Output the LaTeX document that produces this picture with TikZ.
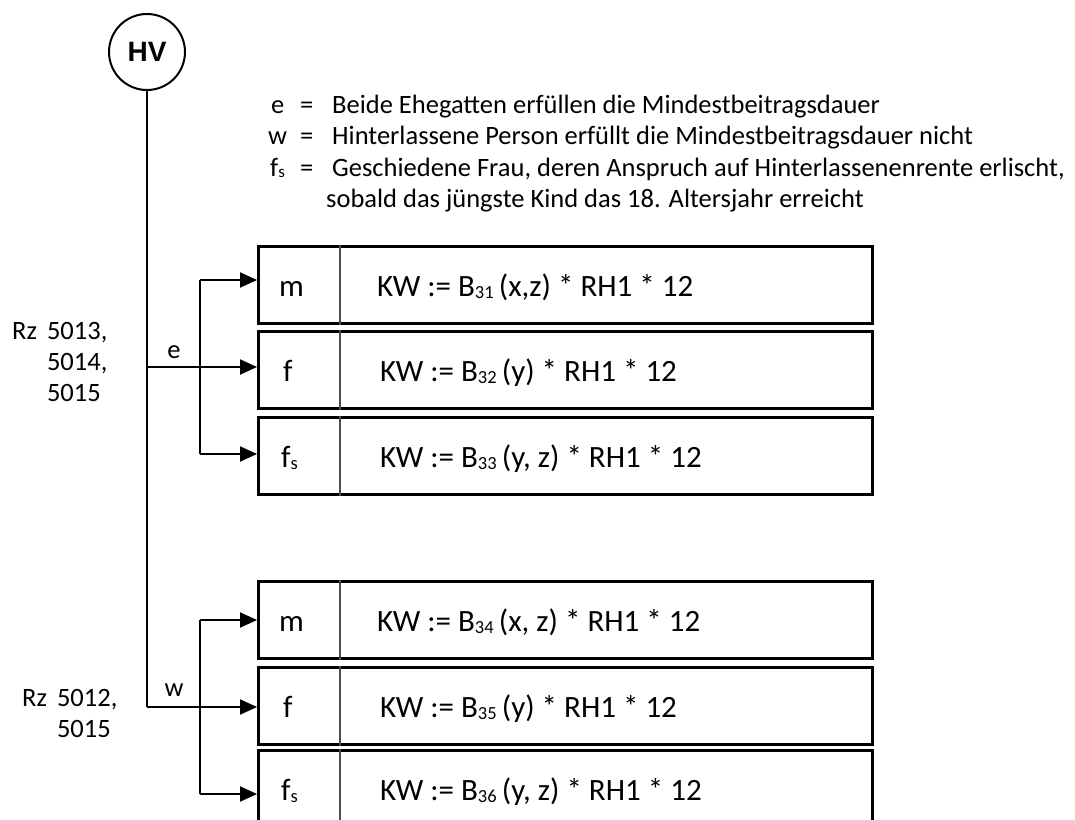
\documentclass[tikz,border=0pt]{standalone}
\usepackage{fontspec}
\setmainfont{Carlito}
\newfontfamily\hvfont{Liberation Sans}
\usetikzlibrary{arrows.meta}
\newcommand{\idx}[1]{\raisebox{-2pt}{\fontsize{18.5}{18.5}\selectfont #1}}
\newcommand{\lidx}[1]{\raisebox{-1.5pt}{\fontsize{17}{17}\selectfont #1}}
\begin{document}
\begin{tikzpicture}[x=1pt,y=-1pt,
        rowbox/.style={draw,line width=2.6pt,minimum width=614pt,minimum height=77pt,inner sep=0pt,anchor=north west},
        link/.style={line width=2pt},
        arr/.style={link,-{Triangle[length=17pt,width=15pt]}},
        boxtext/.style={font=\fontsize{31}{36}\selectfont,inner sep=0pt,anchor=base west},
        legend/.style={font=\fontsize{26.5}{32}\selectfont,inner sep=0pt,anchor=base west},
        rz/.style={font=\fontsize{26.5}{31}\selectfont,inner sep=0pt,align=left,anchor=base west}]
    \useasboundingbox (0,0) rectangle (1075,819);

    \node[circle,draw,line width=2pt,minimum size=76pt,inner sep=0pt,font=\hvfont\bfseries\fontsize{28}{28}\selectfont] (hv) at (147,52) {HV};

    % legende
    \node[legend] (le) at (271,113) {e};
    \node[legend] (lw) at (268,144.5) {w};
    \node[legend] (lf) at (270,176) {f\lidx{s}};
    \foreach \y in {113,144.5,176} {\node[legend] at (300,\y) {=};}
    \node[legend] (te) at (332,113) {Beide Ehegatten erfüllen die Mindestbeitragsdauer};
    \node[legend] (tw) at (332,144.5) {Hinterlassene Person erfüllt die Mindestbeitragsdauer nicht};
    \node[legend] (tf) at (332,176) {Geschiedene Frau, deren Anspruch auf Hinterlassenenrente erlischt,};
    \node[legend] (tf2) at (326,207.5) {sobald das jüngste Kind das 18. Altersjahr erreicht};

    % kästen
    \node[rowbox] (m1) at (257,245) {};
    \node[rowbox] (f1) at (257,330) {};
    \node[rowbox] (s1) at (257,416) {};
    \node[rowbox] (m2) at (257,580) {};
    \node[rowbox] (f2) at (257,666) {};
    \node[rowbox] (s2) at (257,749) {};
    \foreach \b in {m1,f1,s1,m2,f2,s2} {\draw[line width=1.2pt,black!70] (340,0 |- \b.north) -- (340,0 |- \b.south);}

    \node[boxtext] at ([yshift=-51pt] 279,0 |- m1.north) {m};
    \node[boxtext] at ([yshift=-51pt] 283,0 |- f1.north) {f};
    \node[boxtext] at ([yshift=-51pt] 281,0 |- s1.north) {f\idx{s}};
    \node[boxtext] at ([yshift=-51pt] 279,0 |- m2.north) {m};
    \node[boxtext] at ([yshift=-51pt] 283,0 |- f2.north) {f};
    \node[boxtext] at ([yshift=-51pt] 281,0 |- s2.north) {f\idx{s}};

    \node[boxtext] at ([yshift=-51pt] 377,0 |- m1.north) {KW := B\idx{31}\,(x,z) * RH1 * 12};
    \node[boxtext] at ([yshift=-51pt] 380,0 |- f1.north) {KW := B\idx{32}\,(y) * RH1 * 12};
    \node[boxtext] at ([yshift=-51pt] 380,0 |- s1.north) {KW := B\idx{33}\,(y, z) * RH1 * 12};
    \node[boxtext] at ([yshift=-51pt] 377,0 |- m2.north) {KW := B\idx{34}\,(x, z) * RH1 * 12};
    \node[boxtext] at ([yshift=-51pt] 380,0 |- f2.north) {KW := B\idx{35}\,(y) * RH1 * 12};
    \node[boxtext] at ([yshift=-51pt] 380,0 |- s2.north) {KW := B\idx{36}\,(y, z) * RH1 * 12};

    % verzweigungen
    \coordinate (je) at (147,367);
    \coordinate (jw) at (147,707);
    \coordinate (be) at (200,367);
    \coordinate (bw) at (200,707);
    \coordinate (am1) at (200,280);
    \coordinate (as1) at (200,454);
    \coordinate (am2) at (200,620);
    \coordinate (as2) at (200,794);
    \draw[link] (hv.south)--(jw);
    \draw[link] (am1)--(as1);
    \draw[link] (am2)--(as2);
    \draw[arr] (je)--(f1.west |- je);
    \draw[arr] (jw)--(f2.west |- jw);
    \draw[arr] (am1)--(m1.west |- am1);
    \draw[arr] (as1)--(s1.west |- as1);
    \draw[arr] (am2)--(m2.west |- am2);
    \draw[arr] (as2)--(s2.west |- as2);
    \node[legend,anchor=base] at (174,358) {e};
    \node[legend,anchor=base] at (174,696) {w};

    % randziffern
    \node[rz] (rze) at (12,401) {Rz\hspace{10pt}5013,\\\phantom{Rz}\hspace{10pt}5014,\\\phantom{Rz}\hspace{10pt}5015};
    \node[rz] (rzw) at (22,737) {Rz\hspace{10pt}5012,\\\phantom{Rz}\hspace{10pt}5015};
\end{tikzpicture}
\end{document}
